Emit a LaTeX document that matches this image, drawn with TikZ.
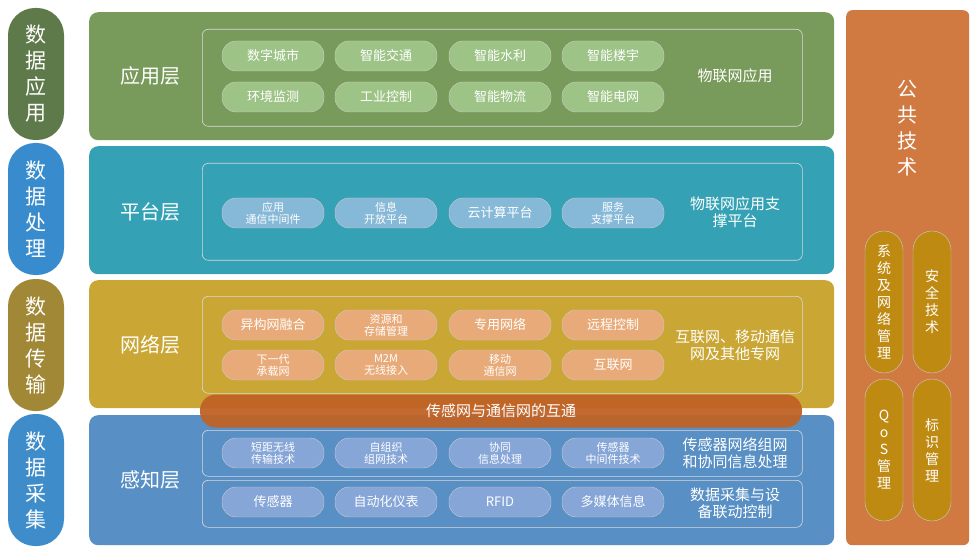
\documentclass[tikz,border=0pt]{standalone}
\usepackage{fontspec}
\setmainfont{Noto Sans CJK SC}
\begin{document}
\begin{tikzpicture}[x=1pt,y=-1pt,
 side/.style={rounded corners=27pt,minimum width=56pt,inner sep=0pt,text=white,font=\fontsize{21}{26}\selectfont,align=center},
 layer/.style={rounded corners=9pt,minimum width=745pt,minimum height=128pt,anchor=north west,inner sep=0pt},
 inner/.style={draw=white!70!gray,rounded corners=6pt,minimum width=600pt,anchor=north west,inner sep=0pt,line width=0.6pt},
 pill/.style={rounded corners=14pt,minimum width=102pt,minimum height=30pt,inner sep=0pt,text=white,align=center,font=\fontsize{13}{14}\selectfont,draw=white!60!gray,line width=0.4pt},
 spill/.style={pill,font=\fontsize{11}{12}\selectfont},
 ltitle/.style={text=white,font=\fontsize{20}{24}\selectfont},
 rtext/.style={text=white,align=center,font=\fontsize{15}{17}\selectfont},
 vpill/.style={rounded corners=19pt,minimum width=38pt,minimum height=142pt,inner sep=0pt,fill=pillgold,draw=white!60!gray,text=white,align=center,font=\fontsize{14}{17}\selectfont}]
\definecolor{pillgold}{HTML}{BF8A12}
\useasboundingbox (0,0) rectangle (979,553);
\fill[white] (0,0) rectangle (979,553);
% left side pills
\node[side,fill={rgb,255:red,95;green,122;blue,74},minimum height=132pt] (s1) at (36,74) {数\\据\\应\\用};
\node[side,fill={rgb,255:red,56;green,140;blue,205},minimum height=132pt] (s2) at (36,209) {数\\据\\处\\理};
\node[side,fill={rgb,255:red,160;green,136;blue,54},minimum height=132pt] (s3) at (36,345) {数\\据\\传\\输};
\node[side,fill={rgb,255:red,62;green,140;blue,202},minimum height=132pt] (s4) at (36,480) {数\\据\\采\\集};
% layers
\node[layer,fill={rgb,255:red,120;green,154;blue,90}] (l1) at (89,12) {};
\node[layer,fill={rgb,255:red,52;green,162;blue,180}] (l2) at (89,146) {};
\node[layer,fill={rgb,255:red,202;green,166;blue,52}] (l3) at (89,280) {};
\node[layer,fill={rgb,255:red,88;green,143;blue,196},minimum height=130pt] (l4) at (89,415) {};
\node[ltitle] (t1) at (150,76) {应用层};
\node[ltitle] (t2) at (150,212) {平台层};
\node[ltitle] (t3) at (150,345) {网络层};
\node[ltitle] (t4) at (150,480) {感知层};
% inner boxes
\node[inner,minimum height=97pt] (i1) at (202,29) {};
\node[inner,minimum height=97pt] (i2) at (202,163) {};
\node[inner,minimum height=97pt] (i3) at (202,296) {};
\node[inner,minimum height=46pt] (i4) at (202,430) {};
\node[inner,minimum height=47pt] (i5) at (202,480) {};
% app pills
\begin{scope}[every node/.append style={fill={rgb,255:red,157;green,196;blue,134}}]
\node[pill] (a1) at (273,56) {数字城市};
\node[pill] (a2) at (386,56) {智能交通};
\node[pill] (a3) at (500,56) {智能水利};
\node[pill] (a4) at (613,56) {智能楼宇};
\node[pill] (a5) at (273,97) {环境监测};
\node[pill] (a6) at (386,97) {工业控制};
\node[pill] (a7) at (500,97) {智能物流};
\node[pill] (a8) at (613,97) {智能电网};
\end{scope}
\node[rtext] (r1) at (735,76) {物联网应用};
% platform
\begin{scope}[every node/.append style={fill={rgb,255:red,134;green,184;blue,216}}]
\node[spill] (p1) at (273,213) {应用\\通信中间件};
\node[spill] (p2) at (386,213) {信息\\开放平台};
\node[pill] (p3) at (500,213) {云计算平台};
\node[spill] (p4) at (613,213) {服务\\支撑平台};
\end{scope}
\node[rtext] (r2) at (735,212) {物联网应用支\\撑平台};
% network
\begin{scope}[every node/.append style={fill={rgb,255:red,232;green,170;blue,120}}]
\node[pill] (n1) at (273,325) {异构网融合};
\node[spill] (n2) at (386,325) {资源和\\存储管理};
\node[pill] (n3) at (500,325) {专用网络};
\node[pill] (n4) at (613,325) {远程控制};
\node[spill] (n5) at (273,365) {下一代\\承载网};
\node[spill] (n6) at (386,365) {M2M\\无线接入};
\node[spill] (n7) at (500,365) {移动\\通信网};
\node[pill] (n8) at (613,365) {互联网};
\end{scope}
\node[rtext] (r3) at (735,345) {互联网、移动通信\\网及其他专网};
% band
\node[fill={rgb,255:red,192;green,98;blue,38},fill opacity=0.95,text opacity=1,rounded corners=16pt,minimum width=602pt,minimum height=33pt,inner sep=0pt,text=white,font=\fontsize{15}{17}\selectfont] (band) at (501,411) {传感网与通信网的互通};
% perception
\begin{scope}[every node/.append style={fill={rgb,255:red,134;green,166;blue,216}}]
\node[spill] (c1) at (273,453) {短距无线\\传输技术};
\node[spill] (c2) at (386,453) {自组织\\组网技术};
\node[spill] (c3) at (500,453) {协同\\信息处理};
\node[spill] (c4) at (613,453) {传感器\\中间件技术};
\node[pill] (c5) at (273,502) {传感器};
\node[pill] (c6) at (386,502) {自动化仪表};
\node[pill] (c7) at (500,502) {RFID};
\node[pill] (c8) at (613,502) {多媒体信息};
\end{scope}
\node[rtext] (r4) at (735,453) {传感器网络组网\\和协同信息处理};
\node[rtext] (r5) at (735,503) {数据采集与设\\备联动控制};
% right column
\node[fill={rgb,255:red,208;green,122;blue,66},rounded corners=6pt,minimum width=123pt,minimum height=535pt,anchor=north west,inner sep=0pt] (pub) at (846,10) {};
\node[text=white,align=center,font=\fontsize{20}{26}\selectfont] (pubt) at (907,128) {公\\共\\技\\术};
\node[vpill] (v1) at (884,302) {系\\统\\及\\网\\络\\管\\理};
\node[vpill] (v2) at (932,302) {安\\全\\技\\术};
\node[vpill] (v3) at (884,450) {Q\\o\\S\\管\\理};
\node[vpill] (v4) at (932,450) {标\\识\\管\\理};
\end{tikzpicture}
\end{document}
